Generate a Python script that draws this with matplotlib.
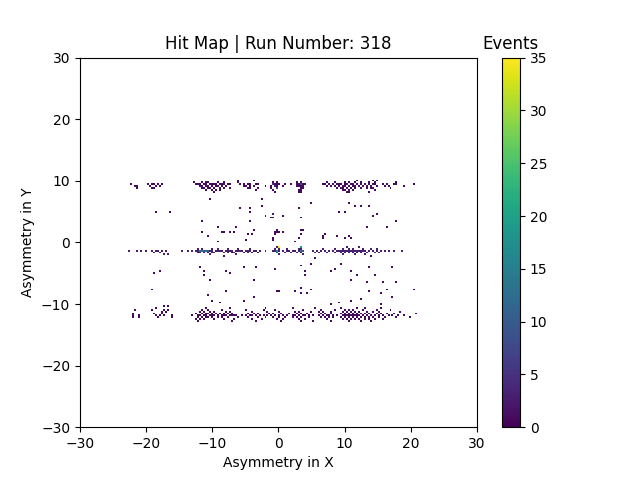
import numpy as np
import matplotlib
matplotlib.use("Agg")
import matplotlib.pyplot as plt

# ---- data (hit positions, data coordinates) ----
# top band rows: y -> list of x
top_rows = {
    10.05: [-6.1, -3.9, 11.8, 14.2, 14.8],
    9.75: [-12.9, -11.7, -11.1, -10.8, -9.3, -8.4, -6.1, -0.9, -0.3, 2.8, 3.4, 7.3, 8.5, 10.0, 10.6,
           11.5, 12.4, 13.6, 14.5, 17.9],
    9.45: [-22.5, -19.7, -19.1, -18.8, -18.2, -17.6, -12.6, -12.3, -12.0, -11.4, -11.1, -10.5, -10.2, -9.9,
           -9.6, -9.0, -8.7, -8.4, -7.8, -7.5, -5.7, -5.4, -4.8, -4.2, -3.6, -3.3, -0.9, -0.6, -0.3, 0.0,
           1.1, 2.0, 2.8, 3.1, 3.4, 3.7, 4.0, 6.7, 7.0, 7.6, 8.2, 8.8, 9.1, 9.4, 10.0, 10.3, 10.9, 11.2,
           11.8, 12.4, 13.0, 13.6, 14.2, 14.5, 15.7, 16.3, 17.5, 17.9, 20.6],
    9.15: [-21.7, -21.4, -19.4, -18.5, -17.9, -12.0, -11.7, -11.1, -10.8, -10.2, -9.6, -9.3, -8.7, -8.1,
           -5.4, -5.1, -4.5, -3.9, -2.0, -1.2, -0.3, 0.7, 2.8, 3.1, 3.4, 3.7, 7.3, 7.9, 8.5, 9.1, 9.7,
           10.0, 10.6, 11.2, 11.5, 12.1, 12.7, 13.3, 13.9, 14.8, 16.0, 16.6, 19.1],
    8.85: [-21.4, -19.1, -18.8, -11.7, -11.4, -10.8, -10.5, -9.9, -9.0, -8.4, -7.5, -4.8, -4.2, -3.3, -1.2,
           -0.3, 3.4, 3.7, 8.8, 9.4, 9.7, 10.3, 10.9, 11.5, 12.4, 13.3, 13.9, 14.2, 16.9],
    8.55: [-11.1, -10.2, -9.6, -9.0, -3.6, -0.9, 3.1, 3.4, 9.7, 10.0, 10.6, 11.2, 14.5],
    8.25: [-9.9, -0.6, 3.1, 3.4, 10.3, 10.6, 13.6],
}

mid_rows = {
    -0.75: [-0.2, 0.1, 10.3, 12.1],
    -1.05: [-12.2, -11.6, -10.1, -9.2, -7.7, -6.2, -4.4, -0.5, 0.1, 1.3, 3.1, 3.4, 6.7, 8.5, 9.7, 10.6,
            11.2, 12.7, 13.9, 14.8],
    -1.35: [-22.6, -21.5, -20.8, -20.0, -19.1, -18.5, -18.2, -17.6, -17.0, -14.6, -13.8, -13.1, -12.5,
            -12.2, -11.9, -11.6, -11.3, -11.0, -10.7, -10.4, -10.1, -9.5, -9.2, -8.9, -8.6, -8.0, -7.7,
            -7.4, -7.1, -6.5, -6.2, -5.9, -5.6, -5.0, -4.7, -4.4, -3.8, -3.5, -2.9, -2.0, -0.8, -0.5,
            -0.2, 0.1, 0.7, 1.3, 1.6, 2.2, 2.5, 3.1, 3.4, 3.7, 5.2, 5.8, 6.4, 7.0, 7.6, 8.2, 8.8, 9.1,
            9.4, 9.7, 10.0, 10.3, 10.6, 10.9, 11.2, 11.5, 11.8, 12.1, 12.4, 12.7, 13.0, 13.6, 14.2,
            14.8, 15.4, 15.9, 16.6, 17.6, 18.6],
    -1.65: [-18.8, -17.9, -12.2, -11.9, -11.3, -10.7, -10.1, -9.8, -8.3, -7.7, -7.1, -6.8, -5.3, -4.7,
            -4.1, -3.2, -0.2, 1.0, 1.9, 2.8, 3.4, 5.5, 6.1, 7.3, 8.5, 9.4, 10.0, 10.6, 11.2, 11.8, 12.4,
            13.3, 14.5, 15.1],
    -1.95: [-17.3, -16.7, -10.4, -6.5, 0.1, 3.7, 9.7, 11.5, 13.0],
}

bot_rows = {
    -10.65: [-18.5, -11.0, -7.4, -2.0, 2.2, 5.5, 9.4, 11.8, 13.0, 15.4],
    -10.95: [-21.8, -19.1, -17.3, -16.7, -11.6, -10.7, -8.6, -5.0, -2.3, -0.5, 3.7, 6.4, 8.5, 10.0,
             10.6, 11.2, 12.7, 14.8, 16.9],
    -11.25: [-17.6, -17.0, -11.9, -11.3, -10.4, -9.8, -8.0, -7.4, -4.1, -1.7, 0.1, 2.5, 3.1, 4.9, 6.1,
             6.7, 7.9, 9.7, 10.3, 10.9, 11.5, 12.1, 13.3, 14.2, 15.1, 18.4],
    -11.55: [-22.1, -18.8, -17.6, -12.5, -11.6, -11.0, -10.7, -10.1, -9.5, -8.9, -8.3, -7.7, -7.1, -4.7,
             -3.8, -3.2, -1.4, -0.8, 0.4, 1.6, 2.8, 3.4, 4.3, 6.4, 7.0, 7.9, 9.4, 10.0, 10.6, 11.2, 11.8,
             12.4, 13.0, 13.6, 14.8, 15.4, 16.3, 17.5, 20.8],
    -11.85: [-22.1, -21.1, -18.5, -17.9, -17.3, -16.1, -13.1, -12.2, -11.9, -11.3, -11.0, -10.4, -10.1,
             -9.8, -9.2, -8.6, -8.3, -8.0, -7.4, -7.1, -6.8, -6.5, -5.6, -5.0, -4.4, -4.1, -3.5, -2.9,
             -2.3, -1.7, -1.1, -0.5, 0.1, 0.7, 1.3, 2.2, 2.5, 3.1, 3.7, 4.0, 4.6, 5.2, 6.1, 6.7, 7.3,
             7.6, 8.2, 8.8, 9.7, 10.0, 10.3, 10.6, 10.9, 11.2, 11.5, 11.8, 12.1, 12.7, 13.3, 13.9, 14.5,
             15.1, 15.7, 16.6, 17.2, 18.1, 19.1],
    -12.15: [-22.1, -21.1, -18.2, -16.1, -12.2, -11.6, -11.0, -10.7, -10.1, -9.2, -8.6, -7.7, -6.2, -4.7,
             -3.2, -2.0, -0.8, 0.1, 1.0, 2.2, 2.8, 3.4, 4.6, 6.4, 7.0, 7.6, 8.2, 9.4, 10.0, 10.6, 11.2,
             11.8, 12.4, 13.0, 13.6, 14.2, 15.1, 16.0, 17.8, 20.0],
    -12.45: [-12.5, -11.9, -11.3, -9.8, -8.3, -6.8, -4.1, -2.6, -0.2, 0.7, 3.1, 4.0, 7.3, 9.7, 10.3, 10.9,
             11.5, 12.1, 13.0, 13.6, 14.5, 15.7],
    -12.75: [-12.2, -7.1, -3.5, 0.4, 3.4, 5.2, 7.9, 10.6, 12.4, 13.9],
}

scatter_x = [-10.4, -18.4, -16.5, -6.0, -4.3, -4.3, -2.5, -2.5, -2.0, -1.0, -0.7, -11.6, -4.3, -9.1, -6.4,
             -11.6, -8.5, -8.2, -7.5, -6.9, -4.8, -4.0, -3.8, -10.8, -9.3, -4.9, -0.8, -0.5, -0.2, -0.2,
             4.8, 10.7, 11.4, 12.6, 13.5, 3.0, 9.0, 9.9, -0.8, -0.9, 0.8, 3.3, 14.3, 14.9, 17.9, 13.2,
             16.4, -0.4, 0.1, 0.8, 3.4, 3.4, 3.7, -0.8, 2.5, 3.1, 6.7, 6.9, 6.7, 8.8, 9.9, 10.8, 10.7,
             -8.4, -17.9, -18.7, -11.9, -11.4, -11.4, -7.9, -7.3, -5.2, -3.6, -0.4, -3.8, -10.5, -19.1,
             -8.1, -10.8, -0.1, -3.8, -5.4, -10.0, -8.8, -16.7, -17.3,
             5.5, 3.5, 3.9, 3.9, 5.1, 7.8, 8.4, 9.6, 10.8, 11.9, 13.5, 14.4, 17.2, 10.8, 13.2, 15.8, 17.8,
             3.3, 2.5, 0.1, 3.3, 4.3, 4.9, 13.7, 15.3, 16.4, 20.6, 17.3, 12.5, 10.8, 15.3, 9.0, 7.9,
             14.0]
scatter_y = [6.9, 4.8, 4.8, 5.4, 5.4, 4.8, 5.7, 6.9, 4.2, 4.0, 4.6, 3.3, 3.5, 2.4, 2.4,
             1.5, 1.5, 1.7, 1.7, 1.5, 1.4, 1.4, 2.1, 0.9, 0.2, 0.4, 0.4, 1.5, 2.0, 1.5,
             6.4, 6.6, 5.8, 5.8, 5.8, 5.6, 4.8, 4.8, 4.5, 4.1, 4.3, 4.1, 4.3, 4.6, 3.5, 2.5,
             2.5, 1.3, 1.5, 1.5, 1.2, 1.8, 2.1, 0.6, 0.2, 0.6, 0.9, 1.2, 0.6, 0.9, 0.6, 0.6, 0.9,
             -2.4, -4.6, -5.1, -4.1, -4.6, -5.3, -4.6, -4.9, -4.0, -4.0, -4.5, -6.1, -6.2, -7.7,
             -8.0, -8.5, -8.0, -9.0, -9.4, -9.4, -9.8, -10.3, -10.4,
             -2.5, -3.8, -4.6, -5.3, -3.5, -4.6, -4.5, -3.5, -4.6, -5.3, -4.1, -5.3, -4.0, -6.2, -6.6, -6.6,
             -6.6, -7.2, -8.0, -8.0, -8.4, -8.3, -7.7, -8.0, -8.3, -7.7, -7.7, -8.9, -9.1, -9.6, -10.1,
             -9.8, -10.1, -2.4]

# extra counts on the brighter cells (x, y, added events)
hot_x = [0.1, -0.2, -0.2, 3.4, 3.4, 3.7, -11.9, -11.6, -11.3, -11.0, -10.7, 3.3, -0.6, -0.9, -0.3]
hot_y = [-0.9, -1.35, -1.65, -0.9, -1.35, -1.35, -1.35, -1.35, -1.35, -1.35, -1.35, 9.45, 9.15, 9.45, 8.85]
hot_w = [32, 13, 11, 20, 9, 7, 11, 10, 9, 8, 7, 7, 4, 4, 4]

# ---- assemble events ----
xs, ys, ws = [], [], []
for rows, base in ((top_rows, 1), (mid_rows, 3), (bot_rows, 1)):
    for yv, xl in rows.items():
        for xv in xl:
            xs.append(xv); ys.append(yv); ws.append(base)
for xv, yv in zip(scatter_x, scatter_y):
    xs.append(xv); ys.append(yv); ws.append(1)
for xv, yv, wv in zip(hot_x, hot_y, hot_w):
    xs.append(xv); ys.append(yv); ws.append(wv)

fig, ax = plt.subplots(figsize=(6.4, 4.8), dpi=100)
h = ax.hist2d(xs, ys, bins=200, range=[[-30, 30], [-30, 30]], weights=ws,
              cmin=1, cmap='viridis', vmin=0, vmax=35)
cbar = fig.colorbar(h[3], ax=ax)
cbar.ax.set_title('Events')
ax.set_xlim(-30, 30)
ax.set_ylim(-30, 30)
ax.set_xticks([-30, -20, -10, 0, 10, 20, 30])
ax.set_yticks([-30, -20, -10, 0, 10, 20, 30])
ax.set_xlabel('Asymmetry in X')
ax.set_ylabel('Asymmetry in Y')
ax.set_title('Hit Map | Run Number: 318')
fig.savefig('out.png', dpi=100)
